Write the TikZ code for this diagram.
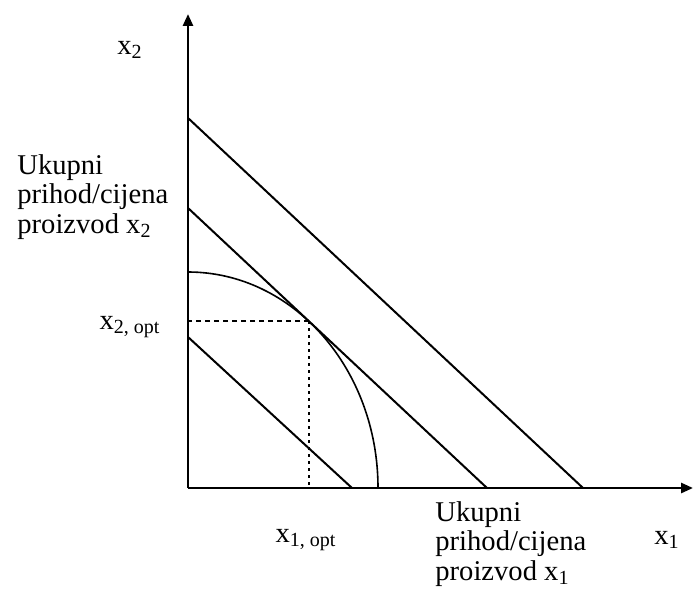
\documentclass[tikz,border=0pt]{standalone}
\usepackage{fontspec}
\setmainfont{Liberation Serif}
\usetikzlibrary{arrows.meta}
\tikzset{
    axis/.style={line width=1.3pt, -{Triangle[length=6pt,width=5pt]}},
    budget/.style={line width=1pt},
    frontier/.style={line width=0.8pt},
    guide/.style={line width=0.8pt, dash pattern=on 2.5pt off 2pt},
    guidev/.style={line width=0.9pt, dash pattern=on 1.6pt off 1.9pt},
    lbl/.style={font=\fontsize{14.3}{14.6}\selectfont, inner sep=0pt, align=left}
}
\begin{document}
\begin{tikzpicture}[x=0.5pt, y=0.5pt]
    \useasboundingbox (-188,-102) rectangle (506,488);

    % Axes
    \coordinate (O) at (0,0);
    \coordinate (ytop) at (0,474);
    \coordinate (xend) at (505,0);
    \draw[axis] (O) -- (ytop);
    \draw[axis] (O) -- (xend);

    % Budget lines
    \coordinate (hi2) at (0,370);  \coordinate (hi1) at (395,0);
    \coordinate (mid2) at (0,280); \coordinate (mid1) at (299,0);
    \coordinate (lo2) at (0,151);  \coordinate (lo1) at (164,0);
    \draw[budget] (hi2) -- (hi1);
    \draw[budget] (mid2) -- (mid1);
    \draw[budget] (lo2) -- (lo1);

    % Production possibility frontier
    \coordinate (ppf2) at (0,216);
    \draw[frontier] (ppf2) arc[start angle=90, end angle=0, x radius=190, y radius=216];

    % Optimum
    \coordinate (opt) at (121,167);
    \draw[guide] (opt) -- (opt -| O);
    \draw[guidev] (opt) -- (opt |- O);

    % Labels
    \node[lbl] (lx2) at (-58,438) {x\textsubscript{2}};
    \node[lbl, anchor=west] (ltr2) at (-171,291) {Ukupni\\prihod/cijena\\proizvod x\textsubscript{2}};
    \node[lbl] (lopt2) at (-58,161) {x\textsubscript{2, opt}};
    \node[lbl] (lopt1) at (118,-52) {x\textsubscript{1, opt}};
    \node[lbl, anchor=west] (ltr1) at (247,-56) {Ukupni\\prihod/cijena\\proizvod x\textsubscript{1}};
    \node[lbl] (lx1) at (479,-52) {x\textsubscript{1}};
\end{tikzpicture}
\end{document}
